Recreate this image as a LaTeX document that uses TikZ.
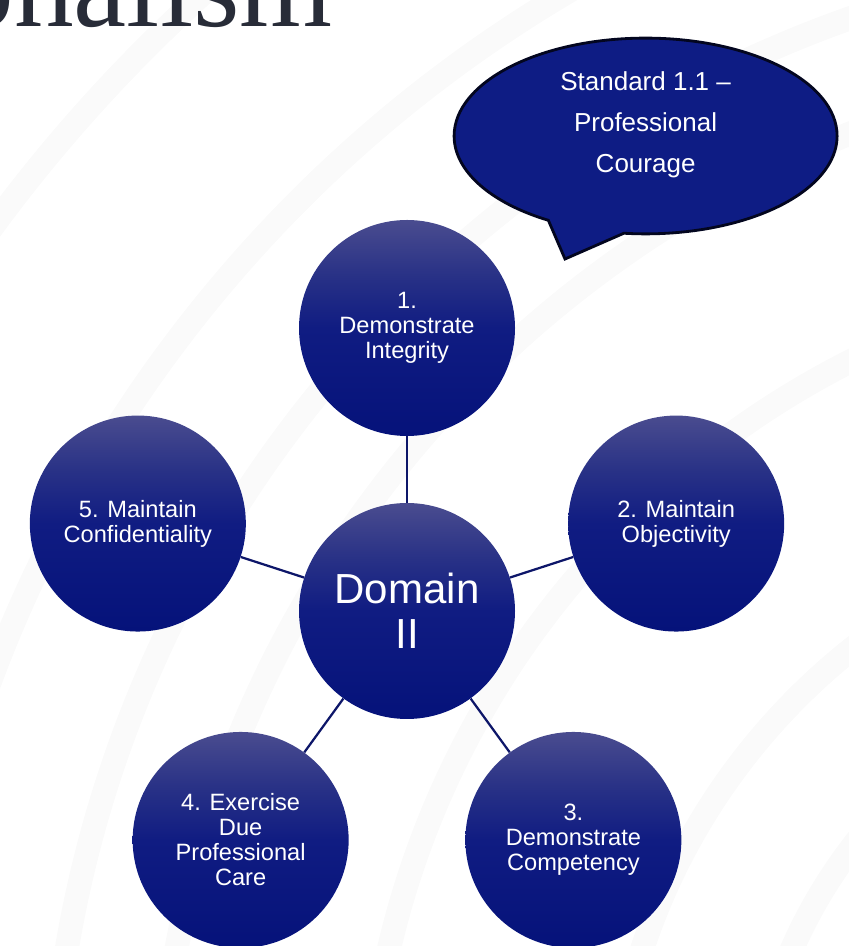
\documentclass[tikz,border=0pt]{standalone}
\usepackage{fontspec}
\usepackage{tikz}
\usetikzlibrary{shapes.geometric,shapes.callouts}
\setmainfont{Liberation Sans}
\newfontfamily\titlefont{Liberation Serif}
\definecolor{DomainTop}{HTML}{4A4C8F}
\definecolor{DomainUpper}{HTML}{283186}
\definecolor{DomainMid}{HTML}{101C82}
\definecolor{DomainDeep}{HTML}{05127A}
\definecolor{DomainLink}{HTML}{0D1669}
\definecolor{BubbleBlue}{HTML}{0E1C84}
\definecolor{BubbleEdge}{HTML}{03061F}
\definecolor{TitleInk}{HTML}{282C38}
\definecolor{ArcGray}{HTML}{FAFAFA}
% light rim at the top, navy from the middle down
\pgfdeclareverticalshading{domainshade}{100bp}{
  color(0bp)=(DomainDeep); color(25bp)=(DomainDeep); color(50bp)=(DomainMid);
  color(62bp)=(DomainUpper); color(75bp)=(DomainTop); color(100bp)=(DomainTop)}
\tikzset{
  topic/.style={
    circle,
    minimum size=5.4cm,
    inner sep=0pt,
    align=center,
    text=white,
    shading=domainshade,
    font=\fontsize{16.8}{17.8}\selectfont
  },
  hub/.style={topic,font=\fontsize{29.9}{32}\selectfont},
  link/.style={draw=DomainLink,line width=1.6pt},
  bubble/.style={
    ellipse callout,
    callout pointer arc=24,
    draw=BubbleEdge,
    fill=BubbleBlue,
    line width=2pt,
    minimum width=9.575cm,
    minimum height=4.7cm,
    align=center,
    text=white,
    text depth=20pt,
    font=\fontsize{18.5}{29.2}\selectfont
  },
  bgarc/.style={draw=ArcGray,line width=.6cm}
}

\begin{document}
\begin{tikzpicture}[x=1cm,y=1cm]
  \useasboundingbox (0,0) rectangle (21.225,23.65);

  % faint background swooshes
  \begin{scope}
    \clip (0,0) rectangle (21.225,23.65);
    \foreach \r in {12.5,16,22.1,27.3,30,33.6,39}
      \draw[bgarc] (31.25,-5.1) circle (\r);
  \end{scope}

  % slide title, cut off at the top edge
  \node[font=\titlefont\fontsize{85}{90}\selectfont,text=TitleInk,inner sep=0pt,anchor=base east]
    (title) at (8.325,22.975) {onalism};

  % hub and the five principles around it
  \node[hub]   (dom) at (10.175,8.375) {Domain\\II};
  \node[topic] (t1)  at (10.175,15.45) {1.\\Demonstrate\\Integrity};
  \node[topic] (t2)  at (16.904,10.561) {2. Maintain\\Objectivity};
  \node[topic] (t3)  at (14.334,2.651) {3.\\Demonstrate\\Competency};
  \node[topic] (t4)  at (6.016,2.651) {4. Exercise\\Due\\Professional\\Care};
  \node[topic] (t5)  at (3.446,10.561) {5. Maintain\\Confidentiality};

  \draw[link] (dom) -- (t1);
  \draw[link] (dom) -- (t2);
  \draw[link] (dom) -- (t3);
  \draw[link] (dom) -- (t4);
  \draw[link] (dom) -- (t5);

  % callout pointing at the first principle
  \node[bubble,callout absolute pointer={(14.125,17.175)}] (std) at (16.14,20.25)
    {Standard 1.1 –\\Professional\\Courage};
\end{tikzpicture}
\end{document}
